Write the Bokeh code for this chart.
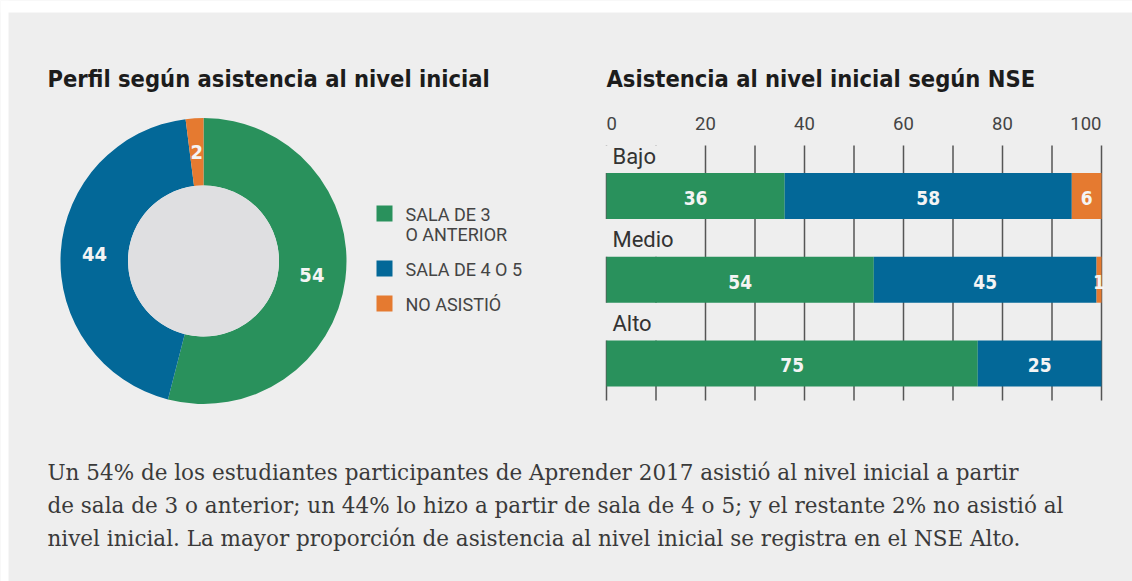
import numpy as np
from bokeh.plotting import figure
from bokeh.models import Range1d
from bokeh.core.properties import value
from bokeh.embed import file_html
from bokeh.resources import INLINE

# ---------------- data ----------------
title_left = "Perfil según asistencia al nivel inicial"
title_right = "Asistencia al nivel inicial según NSE"

donut_labels = ["SALA DE 3\nO ANTERIOR", "SALA DE 4 O 5", "NO ASISTIÓ"]
donut_values = [54, 44, 2]
series_colors = ["#29915c", "#036898", "#e57a30"]

nse_levels = ["Bajo", "Medio", "Alto"]
sala3_o_anterior = [36, 54, 75]
sala4_o_5 = [58, 45, 25]
no_asistio = [6, 1, 0]

tick_values = [0, 20, 40, 60, 80, 100]
tick_labels = ["0", "20", "40", "60", "80", "100"]

paragraph = [
    "Un 54% de los estudiantes participantes de Aprender 2017 asistió al nivel inicial a partir",
    "de sala de 3 o anterior; un 44% lo hizo a partir de sala de 4 o 5; y el restante 2% no asistió al",
    "nivel inicial. La mayor proporción de asistencia al nivel inicial se registra en el NSE Alto.",
]

# ---------------- layout helpers ----------------
W, H = 1132, 581
BG = "#eeeeee"


def X(ix):
    return ix


def Y(iy):
    return H - iy


p = figure(width=W, height=H, x_range=Range1d(0, W), y_range=Range1d(0, H),
           output_backend="svg", toolbar_location=None, min_border=0,
           x_axis_location=None, y_axis_location=None,
           background_fill_color=BG, border_fill_color=BG, outline_line_color=None)
p.grid.visible = False

# white page margin (top / left)
p.quad(left=0, right=W, top=H, bottom=Y(12), fill_color="white", line_color=None)
p.quad(left=0, right=X(8), top=H, bottom=0, fill_color="white", line_color=None)

TITLE_FONT = value("DejaVu Sans Condensed")
NUM_FONT = value("DejaVu Sans Condensed")
SANS = value("Roboto")

# titles
p.text(x=[X(47), X(606)], y=[Y(78), Y(78)], text=[title_left, title_right],
       text_font=TITLE_FONT, text_font_style="bold", text_font_size="23.5px",
       text_color="#1c1c1c", text_baseline="alphabetic", text_align="left")

# ---------------- donut ----------------
cx, cy = X(203), Y(260.5)
r_out, r_in = 143, 75.5
cum = np.concatenate([[0], np.cumsum(donut_values)]) / 100.0
starts = np.pi / 2 - 2 * np.pi * cum[:-1]
ends = np.pi / 2 - 2 * np.pi * cum[1:]
p.annular_wedge(x=cx, y=cy, inner_radius=r_in, outer_radius=r_out,
                start_angle=list(starts), end_angle=list(ends), direction="clock",
                fill_color=series_colors, line_color=None)
p.circle(x=[cx], y=[cy], radius=r_in, fill_color="#dfdfe1", line_color=None)

mids = (starts + ends) / 2
r_lab = (r_out + r_in) / 2
p.text(x=list(cx + r_lab * np.cos(mids)), y=list(cy + r_lab * np.sin(mids)),
       text=[str(v) for v in donut_values], text_font=NUM_FONT, text_font_style="bold",
       text_font_size="20px", text_color="#f4f4f4", text_align="center",
       text_baseline="middle")

# legend
sq_x0, sq = X(376), 16
txt_x = X(405)
top = 205
for lab, col in zip(donut_labels, series_colors):
    lines = lab.split("\n")
    p.quad(left=sq_x0, right=sq_x0 + sq, top=Y(top), bottom=Y(top + sq),
           fill_color=col, line_color=None)
    p.text(x=[txt_x] * len(lines), y=[Y(top + 9 + 20 * i) for i in range(len(lines))],
           text=lines, text_font=SANS, text_font_size="18px", text_color="#444444",
           text_baseline="middle", text_align="left")
    top += 20 * len(lines) + 15

# ---------------- stacked bars ----------------
bx0, bx1 = X(606), X(1101)
s = (bx1 - bx0) / 100.0
p.extra_x_ranges = {"pct": Range1d(-bx0 / s, (W - bx0) / s)}

grid_top, grid_bottom = 145, 400
gx = list(range(0, 101, 10))
p.segment(x0=gx, y0=[Y(grid_top)] * len(gx), x1=gx, y1=[Y(grid_bottom)] * len(gx),
          x_range_name="pct", line_color="#555555", line_width=1.5)

row_gap = 83.7
bar_h = 46
centers = [195.5 + row_gap * i for i in range(len(nse_levels))]

# label backgrounds (hide gridlines behind category names)
prev_bottom = grid_top
for c in centers:
    p.quad(left=-2, right=17, top=Y(prev_bottom), bottom=Y(c - bar_h / 2),
           x_range_name="pct", fill_color=BG, line_color=None)
    prev_bottom = c + bar_h / 2

p.text(x=[1.2] * len(nse_levels), y=[Y(c - bar_h / 2 - 17) for c in centers],
       text=nse_levels, x_range_name="pct", text_font=SANS, text_font_size="22px",
       text_color="#333333", text_baseline="middle", text_align="left")

left = np.zeros(len(nse_levels))
for vals, col in zip([sala3_o_anterior, sala4_o_5, no_asistio], series_colors):
    vals = np.array(vals, dtype=float)
    p.hbar(y=[Y(c) for c in centers], left=list(left), right=list(left + vals),
           height=bar_h, x_range_name="pct", fill_color=col, line_color=None)
    xs, ys, ts = [], [], []
    for i, v in enumerate(vals):
        if v > 0:
            xs.append(left[i] + v / 2)
            ys.append(Y(centers[i] + 2))
            ts.append(str(int(v)))
    p.text(x=xs, y=ys, text=ts, x_range_name="pct", text_font=NUM_FONT,
           text_font_style="bold", text_font_size="19px", text_color="#f4f4f4",
           text_align="center", text_baseline="middle")
    left = left + vals

aligns = ["left"] + ["center"] * (len(tick_values) - 2) + ["right"]
p.text(x=tick_values, y=[Y(123)] * len(tick_values), text=tick_labels,
       x_range_name="pct", text_font=SANS, text_font_size="18.5px",
       text_color="#444444", text_align=aligns, text_baseline="middle")

# ---------------- paragraph ----------------
p.text(x=[X(47)] * len(paragraph), y=[Y(472 + 33 * i) for i in range(len(paragraph))],
       text=paragraph, text_font=value("DejaVu Serif"), text_font_size="21.5px",
       text_color="#3a3a3a", text_baseline="middle", text_align="left")

open("out.html", "w").write(file_html(p, INLINE))
